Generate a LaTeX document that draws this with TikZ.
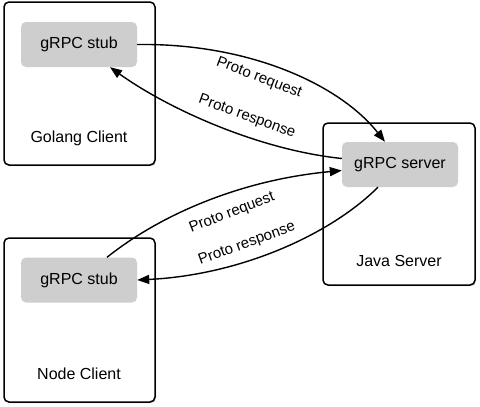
\documentclass[tikz,border=0pt]{standalone}
\usepackage{fontspec}
\setmainfont{Liberation Sans}
\usetikzlibrary{arrows.meta,shadows}
\definecolor{stubgray}{HTML}{CECECE}
\tikzset{
  outerbox/.style={draw=black, line width=1.5pt, rounded corners=5pt, fill=white,
    drop shadow={shadow xshift=1pt, shadow yshift=-1.2pt, opacity=0.35, fill=black!60}},
  stubbox/.style={fill=stubgray, rounded corners=5pt, minimum width=116pt, minimum height=45pt,
    font=\fontsize{16}{19}\selectfont, inner sep=0pt},
  boxlabel/.style={font=\fontsize{16}{19}\selectfont, inner sep=0pt},
  arrlabel/.style={font=\fontsize{15}{18}\selectfont, inner sep=0pt},
  conn/.style={line width=1.4pt, -{Triangle[length=12pt,width=9pt]}}
}
\begin{document}
\begin{tikzpicture}[x=1pt,y=-1pt]
\useasboundingbox (0,0) rectangle (480,407);
% outer boxes
\node[outerbox, minimum width=151pt, minimum height=163pt] (golang) at (79.5,83.5) {};
\node[outerbox, minimum width=151pt, minimum height=164pt] (nodec) at (79.5,320) {};
\node[outerbox, minimum width=152pt, minimum height=162pt] (java) at (399,204) {};
% inner boxes
\node[stubbox] (gstub) at (79,44.5) {gRPC stub};
\node[stubbox] (nstub) at (79,280) {gRPC stub};
\node[stubbox] (server) at (400,164.5) {gRPC server};
% box labels
\node[boxlabel] (glabel) at (79,138) {Golang Client};
\node[boxlabel] (nlabel) at (79,374) {Node Client};
\node[boxlabel] (jlabel) at (399,261) {Java Server};
% connectors
\draw[conn] (gstub.east) .. controls (250,43) and (340,85) .. ([xshift=-15pt]server.north);
\draw[conn] ([yshift=6pt]server.west) .. controls (260,150) and (170,110) .. ([xshift=31pt]gstub.south);
\draw[conn] ([xshift=28pt]nstub.north) .. controls (160,215) and (240,180) .. ([yshift=-6pt]server.west);
\draw[conn] ([xshift=-22pt]server.south) .. controls (330,235) and (240,275) .. (nstub.east);
% connector labels
\node[arrlabel, rotate=-21] (l1) at (259,78) {Proto request};
\node[arrlabel, rotate=-20] (l2) at (247,117) {Proto response};
\node[arrlabel, rotate=21] (l3) at (232,213) {Proto request};
\node[arrlabel, rotate=20] (l4) at (247,244) {Proto response};
\end{tikzpicture}
\end{document}
